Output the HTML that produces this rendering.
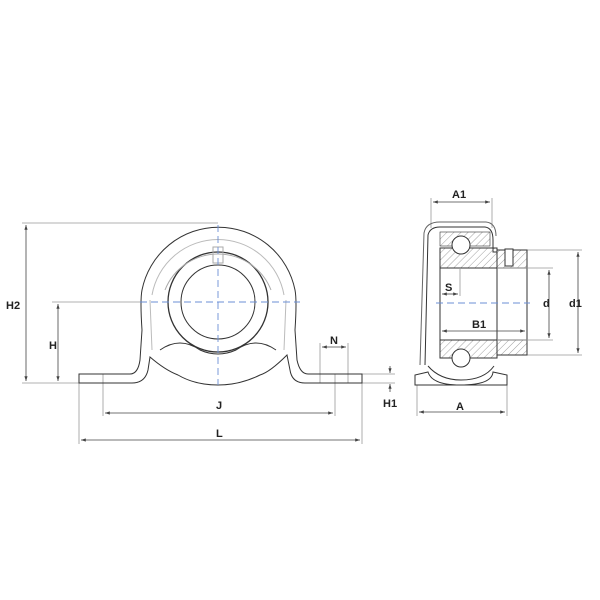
<!DOCTYPE html>
<html><head><style>
body{margin:0;background:#fff}
svg{display:block}
text{font-family:"Liberation Sans",sans-serif;font-weight:bold;font-size:11px;fill:#222}
</style></head><body>
<svg width="600" height="600" viewBox="0 0 600 600" xmlns="http://www.w3.org/2000/svg">
<defs>
<pattern id="h" width="5" height="5" patternUnits="userSpaceOnUse" patternTransform="rotate(45)">
<line x1="0" y1="0" x2="0" y2="5" stroke="#777" stroke-width="0.7"/></pattern>
<marker id="a" viewBox="0 0 6 6" refX="6" refY="3" markerWidth="6" markerHeight="6" orient="auto-start-reverse"><path d="M0,1 L6,3 L0,5z" fill="#444"/></marker>
</defs>
<g fill="none" stroke="#999" stroke-width="0.8">
<line x1="22" y1="223" x2="218" y2="223"/>
<line x1="52" y1="302" x2="140" y2="302"/>
<line x1="22" y1="383" x2="79" y2="383"/>
<line x1="79" y1="383" x2="79" y2="444"/>
<line x1="362" y1="383" x2="362" y2="444"/>
<line x1="103" y1="374" x2="103" y2="416"/>
<line x1="335" y1="374" x2="335" y2="416"/>
<line x1="320" y1="343" x2="320" y2="383"/>
<line x1="348" y1="343" x2="348" y2="383"/>
<line x1="362" y1="374" x2="395" y2="374"/>
<line x1="362" y1="383" x2="395" y2="383"/>
</g>
<g stroke="#444" stroke-width="0.8" fill="none">
<line x1="26" y1="225" x2="26" y2="381" marker-start="url(#a)" marker-end="url(#a)"/>
<line x1="58" y1="304" x2="58" y2="381" marker-start="url(#a)" marker-end="url(#a)"/>
<line x1="105" y1="413" x2="333" y2="413" marker-start="url(#a)" marker-end="url(#a)"/>
<line x1="81" y1="440" x2="360" y2="440" marker-start="url(#a)" marker-end="url(#a)"/>
<line x1="322" y1="347" x2="346" y2="347" marker-start="url(#a)" marker-end="url(#a)"/>
<line x1="390" y1="366" x2="390" y2="373" marker-end="url(#a)"/>
<line x1="390" y1="392" x2="390" y2="384" marker-end="url(#a)"/>
</g>
<g fill="none" stroke="#333" stroke-width="1">
<path d="M79,374 L130,374 Q138,374 140,360 L142,330 Q140,300 142,290 A78,78 0 0 1 295,290 Q297,300 295,330 L297,360 Q300,374 308,374 L362,374 L362,383 L305,383 Q292,383 290,370 L287,355 Q270,372 260,375 Q240,385 218,385 Q195,385 178,375 Q165,370 150,357 L148,370 Q145,383 132,383 L79,383 Z"/>
<circle cx="218" cy="302" r="50" stroke-width="1.3"/>
<circle cx="218" cy="302" r="37" stroke-width="1"/>
<path d="M160,350 Q180,336 200,350 Q218,358 236,350 Q256,336 276,350" stroke-width="1"/>
<path d="M165,290 A57,57 0 0 1 271,290" stroke="#aaa"/>
<path d="M152,295 A67,67 0 0 1 284,295" stroke="#bbb"/>
<rect x="213" y="247" width="10" height="16" stroke="#aaa"/>
<path d="M150,300 L152,350 M286,300 L284,350" stroke="#bbb"/>
</g>
<g stroke="#6b8fd6" stroke-width="0.9" stroke-dasharray="7,4" fill="none">
<line x1="140" y1="302" x2="300" y2="302"/>
<line x1="218" y1="225" x2="218" y2="385"/>
</g>
<text x="6" y="309">H2</text>
<text x="49" y="349">H</text>
<text x="216" y="409">J</text>
<text x="216" y="437">L</text>
<text x="330" y="344">N</text>
<text x="383" y="407">H1</text>
<!-- right view -->
<g fill="none" stroke="#999" stroke-width="0.8">
<line x1="431" y1="198" x2="431" y2="228"/>
<line x1="492" y1="198" x2="492" y2="228"/>
<line x1="417" y1="385" x2="417" y2="416"/>
<line x1="507" y1="385" x2="507" y2="416"/>
<line x1="527" y1="250" x2="582" y2="250"/>
<line x1="527" y1="355" x2="582" y2="355"/>
</g>
<g stroke="#444" stroke-width="0.8" fill="none">
<line x1="433" y1="202" x2="490" y2="202" marker-start="url(#a)" marker-end="url(#a)"/>
<line x1="419" y1="412" x2="505" y2="412" marker-start="url(#a)" marker-end="url(#a)"/>
<line x1="578" y1="252" x2="578" y2="353" marker-start="url(#a)" marker-end="url(#a)"/>
</g>
<g stroke="#333" stroke-width="1">
<path d="M425,365 L428,235 Q430,227 440,227 L485,227 Q493,228 493,240 L493,252 L497,252" fill="none"/>
<path d="M420,365 L424,233 Q426,222 440,222 L486,222 Q496,223 496,236" fill="none" stroke="#666"/>
<rect x="440" y="248" width="57" height="20" fill="url(#h)"/>
<rect x="440" y="340" width="57" height="18" fill="url(#h)"/>
<rect x="497" y="250" width="30" height="18" fill="url(#h)"/>
<rect x="497" y="340" width="30" height="15" fill="url(#h)"/>
<rect x="440" y="268" width="57" height="72" fill="#fff"/>
<rect x="497" y="268" width="30" height="72" fill="#fff"/>
<rect x="505" y="249" width="8" height="17" fill="#fff"/>
<rect x="440" y="232" width="50" height="14" fill="url(#h)" stroke-width="0.6"/>
<circle cx="461" cy="245" r="9" fill="#fff"/>
<circle cx="461" cy="358" r="9" fill="#fff"/>
<path d="M415,385 L415,375 L428,372 Q432,385 460,385 Q492,385 493,372 L507,375 L507,385 Z" fill="#fff"/>
<path d="M428,366 Q440,380 461,380 Q484,380 494,366" fill="none"/>
</g>
<g fill="none" stroke="#999" stroke-width="0.8">
<line x1="497" y1="268" x2="553" y2="268"/>
<line x1="497" y1="340" x2="553" y2="340"/>
<line x1="460" y1="268" x2="460" y2="296"/>
</g>
<g stroke="#444" stroke-width="0.8" fill="none">
<line x1="549" y1="270" x2="549" y2="338" marker-start="url(#a)" marker-end="url(#a)"/>
<line x1="442" y1="294" x2="458" y2="294" marker-start="url(#a)" marker-end="url(#a)"/>
<line x1="442" y1="331" x2="525" y2="331" marker-start="url(#a)" marker-end="url(#a)"/>
</g>
<g stroke="#6b8fd6" stroke-width="0.9" stroke-dasharray="7,4" fill="none">
<line x1="436" y1="303" x2="530" y2="303"/>
</g>
<text x="452" y="198">A1</text>
<text x="456" y="410">A</text>
<text x="543" y="307">d</text>
<text x="569" y="307">d1</text>
<text x="445" y="291">S</text>
<text x="472" y="328">B1</text>
</svg>
</body></html>
